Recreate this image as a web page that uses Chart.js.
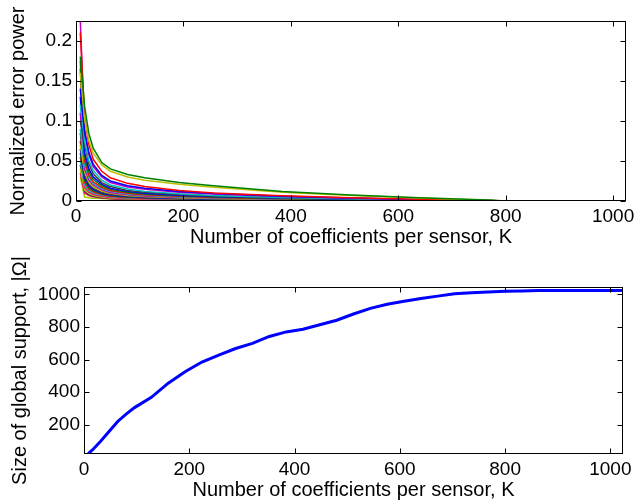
<!DOCTYPE html>
<html><head><meta charset="utf-8">
<script src="https://cdn.jsdelivr.net/npm/chart.js@4"></script>
<style>
html,body{margin:0;padding:0;background:#fff;overflow:hidden;width:636px;height:500px;}
#c1{position:absolute;left:0;top:0;}
#c2{position:absolute;left:0;top:252px;}
</style></head><body>
<canvas id="c1" width="636" height="249"></canvas>
<canvas id="c2" width="636" height="250"></canvas>
<script>
// ---------- data ----------
const kTop = [8, 16, 24, 32, 48, 64, 96, 128, 192, 256, 384, 512, 640, 768, 800, 1024];
const err01 = [0.18, 0.118, 0.084, 0.066, 0.048, 0.040, 0.033, 0.029, 0.023, 0.019, 0.012, 0.0075, 0.0042, 0.0012, 0, 0];
const err02 = [0.16, 0.102, 0.075, 0.060, 0.045, 0.037, 0.030, 0.026, 0.021, 0.017, 0.011, 0.0068, 0.0036, 0.0010, 0, 0];
const err03 = [0.21, 0.105, 0.070, 0.052, 0.037, 0.029, 0.022, 0.018, 0.013, 0.010, 0.0065, 0.0040, 0.0022, 0.0007, 0, 0];
const err04 = [0.14, 0.085, 0.060, 0.046, 0.032, 0.025, 0.019, 0.016, 0.012, 0.0095, 0.0060, 0.0038, 0.0020, 0.0006, 0, 0];
const err05 = [0.2245, 0.090, 0.058, 0.043, 0.030, 0.023, 0.0175, 0.0145, 0.011, 0.0088, 0.0056, 0.0035, 0.0019, 0.0006, 0, 0];
const err06 = [0.12, 0.075, 0.050, 0.038, 0.026, 0.020, 0.015, 0.012, 0.0090, 0.0070, 0.0045, 0.0028, 0.0015, 0.0005, 0, 0];
const err07 = [0.10, 0.070, 0.046, 0.034, 0.023, 0.018, 0.013, 0.011, 0.0080, 0.0062, 0.0040, 0.0025, 0.0013, 0.0004, 0, 0];
const err08 = [0.13, 0.060, 0.040, 0.030, 0.021, 0.016, 0.012, 0.0098, 0.0072, 0.0056, 0.0036, 0.0022, 0.0012, 0.0004, 0, 0];
const err09 = [0.175, 0.055, 0.036, 0.027, 0.019, 0.0145, 0.0108, 0.0088, 0.0065, 0.0050, 0.0032, 0.0020, 0.0011, 0.0003, 0, 0];
const err10 = [0.165, 0.050, 0.032, 0.024, 0.017, 0.013, 0.0097, 0.0079, 0.0058, 0.0045, 0.0029, 0.0018, 0.0010, 0.0003, 0, 0];
const err11 = [0.09, 0.045, 0.029, 0.022, 0.0155, 0.012, 0.0088, 0.0071, 0.0052, 0.0040, 0.0026, 0.0016, 0.0009, 0.0003, 0, 0];
const err12 = [0.11, 0.040, 0.026, 0.020, 0.014, 0.0105, 0.0078, 0.0063, 0.0046, 0.0036, 0.0023, 0.0014, 0.0008, 0.0002, 0, 0];
const err13 = [0.07, 0.036, 0.024, 0.018, 0.0125, 0.0095, 0.0070, 0.0056, 0.0041, 0.0032, 0.0020, 0.0013, 0.0007, 0.0002, 0, 0];
const err14 = [0.085, 0.032, 0.021, 0.016, 0.011, 0.0085, 0.0062, 0.0050, 0.0036, 0.0028, 0.0018, 0.0011, 0.0006, 0.0002, 0, 0];
const err15 = [0.065, 0.029, 0.019, 0.0145, 0.010, 0.0076, 0.0055, 0.0044, 0.0032, 0.0025, 0.0016, 0.0010, 0.0005, 0.0002, 0, 0];
const err16 = [0.06, 0.026, 0.017, 0.013, 0.0090, 0.0068, 0.0049, 0.0039, 0.0028, 0.0022, 0.0014, 0.0009, 0.0005, 0.0001, 0, 0];
const err17 = [0.075, 0.023, 0.015, 0.0115, 0.0080, 0.0060, 0.0043, 0.0034, 0.0025, 0.0019, 0.0012, 0.0008, 0.0004, 0.0001, 0, 0];
const err18 = [0.05, 0.020, 0.013, 0.010, 0.0070, 0.0052, 0.0037, 0.0030, 0.0021, 0.0016, 0.0010, 0.0007, 0.0004, 0.0001, 0, 0];
const err19 = [0.055, 0.017, 0.011, 0.0085, 0.0060, 0.0045, 0.0032, 0.0025, 0.0018, 0.0014, 0.0009, 0.0006, 0.0003, 0.0001, 0, 0];
const err20 = [0.04, 0.014, 0.0095, 0.0072, 0.0050, 0.0038, 0.0027, 0.0021, 0.0015, 0.0012, 0.0008, 0.0005, 0.0003, 0.0001, 0, 0];
const err21 = [0.045, 0.012, 0.0080, 0.0060, 0.0042, 0.0032, 0.0023, 0.0018, 0.0013, 0.0010, 0.0007, 0.0004, 0.0002, 0.0001, 0, 0];
const err22 = [0.035, 0.010, 0.0068, 0.0052, 0.0036, 0.0027, 0.0019, 0.0015, 0.0011, 0.0009, 0.0006, 0.0004, 0.0002, 0.0001, 0, 0];
const err23 = [0.03, 0.005, 0.0040, 0.0035, 0.0030, 0.0025, 0.0019, 0.0015, 0.0011, 0.0008, 0.0006, 0.0004, 0.0002, 0.0001, 0, 0];
const errorSeries = [err01, err02, err03, err04, err05, err06, err07, err08, err09, err10, err11, err12,
                     err13, err14, err15, err16, err17, err18, err19, err20, err21, err22, err23];
const lineColors = ['#008000', '#bfbf00', '#ff0000', '#0000ff', '#bf00bf', '#00bfbf', '#404040',
                    '#0000ff', '#008000', '#ff0000', '#00bfbf', '#bf00bf', '#bfbf00', '#404040',
                    '#0000ff', '#008000', '#ff0000', '#00bfbf', '#ff0080', '#bfbf00', '#404040',
                    '#ff0066', '#99cc00'];
const xTicks = [0, 200, 400, 600, 800, 1000];
const yTicksTop = [0, 0.05, 0.1, 0.15, 0.2];
const yTickLabelsTop = ['0', '0.05', '0.1', '0.15', '0.2'];

const kBottom = [8, 16, 32, 48, 64, 80, 96, 128, 160, 192, 224, 256, 288, 320, 352, 384, 416, 448, 480,
                 512, 544, 576, 608, 640, 672, 704, 736, 768, 800, 832, 864, 896, 1024];
const supportSize = [22, 45, 100, 160, 220, 265, 305, 368, 455, 525, 585, 628, 668, 700, 742, 770, 786, 814, 842,
                     880, 915, 940, 958, 975, 990, 1004, 1010, 1016, 1020, 1022, 1024, 1024, 1024];
const yTicksBottom = [200, 400, 600, 800, 1000];

// ---------- chart setup ----------
Chart.defaults.font.family = "'Liberation Sans', Arial, Helvetica, sans-serif";
Chart.defaults.color = '#000';

const boxTicks = {
  id: 'boxTicks',
  afterDraw(chart) {
    const {ctx, chartArea: a, scales: {x, y}} = chart;
    ctx.save();
    ctx.strokeStyle = '#000';
    ctx.lineWidth = 1;
    const L = Math.round(a.left) + 0.5, R = Math.round(a.right) - 0.5;
    const T = Math.round(a.top) + 0.5, B = Math.round(a.bottom) - 0.5;
    ctx.strokeRect(L, T, R - L, B - T);
    ctx.beginPath();
    x.ticks.forEach(t => {
      const px = Math.round(x.getPixelForValue(t.value)) + 0.5;
      ctx.moveTo(px, B); ctx.lineTo(px, B - 5);
      ctx.moveTo(px, T); ctx.lineTo(px, T + 5);
    });
    y.ticks.forEach(t => {
      const py = Math.round(y.getPixelForValue(t.value)) + 0.5;
      ctx.moveTo(L, py); ctx.lineTo(L + 5, py);
      ctx.moveTo(R, py); ctx.lineTo(R - 5, py);
    });
    ctx.stroke();
    ctx.restore();
  }
};

function xScale(h) {
  return {
    type: 'linear', min: 0, max: 1024,
    afterBuildTicks: s => { s.ticks = xTicks.map(v => ({value: v})); },
    afterFit: s => { s.height = h; s.paddingLeft = 0; s.paddingRight = 0; },
    grid: {display: false, drawTicks: false}, border: {display: false},
    ticks: {padding: 4, font: {size: 19}, maxRotation: 0, autoSkip: false, callback: v => String(v)},
    title: {display: true, text: 'Number of coefficients per sensor, K', font: {size: 20}, padding: {top: 0, bottom: 0}}
  };
}
function yScale(w, min, max, ticks, labels, title, tpad) {
  return {
    type: 'linear', min: min, max: max,
    afterBuildTicks: s => { s.ticks = ticks.map(v => ({value: v})); },
    afterFit: s => { s.width = w; s.paddingTop = 0; s.paddingBottom = 0; },
    grid: {display: false, drawTicks: false}, border: {display: false},
    ticks: {padding: 4, font: {size: 19}, autoSkip: false,
            callback: (v, i) => labels ? labels[i] : String(v)},
    title: {display: true, text: title, font: {size: 20}, padding: {top: tpad, bottom: 0}}
  };
}

new Chart(document.getElementById('c1'), {
  type: 'line',
  data: {
    datasets: errorSeries.map((s, i) => ({
      data: kTop.map((k, j) => ({x: k, y: s[j]})),
      borderColor: lineColors[i], borderWidth: 1.5, pointRadius: 0, tension: 0, fill: false
    }))
  },
  options: {
    responsive: false, animation: false,
    layout: {padding: {top: 21, right: 10, left: 0, bottom: 0}},
    plugins: {legend: {display: false}, tooltip: {enabled: false}},
    scales: {
      x: xScale(48),
      y: yScale(76, 0, 0.2245, yTicksTop, yTickLabelsTop, 'Normalized error power', 6)
    }
  },
  plugins: [boxTicks]
});

new Chart(document.getElementById('c2'), {
  type: 'line',
  data: {
    datasets: [{
      data: kBottom.map((k, j) => ({x: k, y: supportSize[j]})),
      borderColor: '#0000ff', borderWidth: 3, pointRadius: 0, tension: 0, fill: false
    }]
  },
  options: {
    responsive: false, animation: false,
    layout: {padding: {top: 35, right: 13, left: 0, bottom: 0}},
    plugins: {legend: {display: false}, tooltip: {enabled: false}},
    scales: {
      x: xScale(48),
      y: yScale(84, 20, 1046, yTicksBottom, null, 'Size of global support, |\u03A9|', 8)
    }
  },
  plugins: [boxTicks]
});
</script>
</body></html>
